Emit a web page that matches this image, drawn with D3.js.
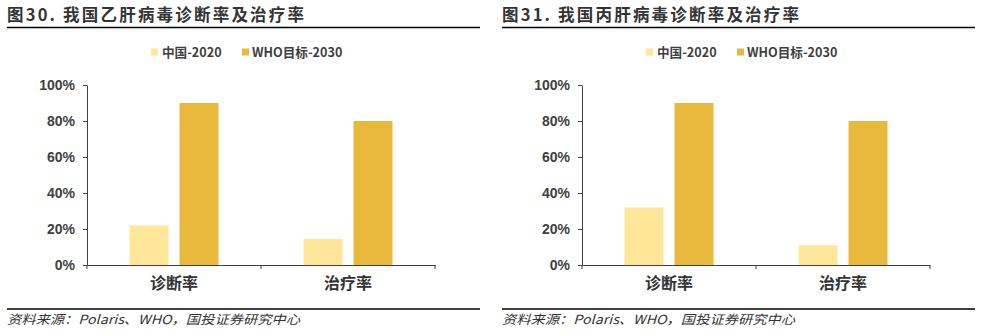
<!DOCTYPE html>
<html>
<head>
<meta charset="utf-8">
<script src="https://cdn.jsdelivr.net/npm/d3@7"></script>
<style>
  html, body { margin: 0; padding: 0; background: #fff; }
  svg { display: block; }
</style>
</head>
<body>
<svg id="chart" width="982" height="335"></svg>
<script>
const categories = ["诊断率", "治疗率"];
const seriesNames = ["中国-2020", "WHO目标-2030"];
const seriesColors = ["#FFE699", "#E8B93C"];
const hbvChina = [22, 14.5];
const hbvWHO = [90, 80];
const hcvChina = [32, 11];
const hcvWHO = [90, 80];
const yTicks = [0, 20, 40, 60, 80, 100];
const titles = ["图30. 我国乙肝病毒诊断率及治疗率", "图31. 我国丙肝病毒诊断率及治疗率"];
const sourceText = "资料来源：Polaris、WHO，国投证券研究中心";

const svg = d3.select("#chart");
const cjk = "'Noto Sans CJK SC', 'Noto Sans', sans-serif";
const latin = "'Liberation Sans', Arial, sans-serif";
const axisColor = "#404040";

function drawPanel(ox, title, china, who) {
  const g = svg.append("g").attr("transform", `translate(${ox},0)`);

  // title
  g.append("text").attr("x", 7).attr("y", 21)
    .attr("font-family", cjk).attr("font-weight", "bold").attr("font-size", 16.5)
    .attr("textLength", 297).attr("lengthAdjust", "spacing")
    .attr("fill", "#333").text(title);
  g.append("line").attr("x1", 7).attr("x2", 480).attr("y1", 27.5).attr("y2", 27.5)
    .attr("stroke", "#000").attr("stroke-width", 1.3);

  // legend
  const leg = g.append("g");
  const legItems = [{x: 151, tx: 162}, {x: 242, tx: 252}];
  seriesNames.forEach((s, i) => {
    leg.append("rect").attr("x", legItems[i].x).attr("y", 48.5).attr("width", 7).attr("height", 7)
      .attr("fill", seriesColors[i]);
    leg.append("text").attr("x", legItems[i].tx).attr("y", 57)
      .attr("font-family", cjk).attr("font-weight", "bold").attr("font-size", 12.6)
      .attr("fill", "#404040").text(s);
  });

  // scales
  const x0 = d3.scaleBand().domain(categories).range([87, 435]).paddingInner(0).paddingOuter(0);
  const bw = x0.bandwidth();
  const x1 = d3.scaleBand().domain(seriesNames).range([bw / 2 - 44.5, bw / 2 + 44.5]).paddingInner(0.22).paddingOuter(0);
  const y = d3.scaleLinear().domain([0, 100]).range([265, 85]);

  // bars
  const rows = categories.map((c, i) => ({c, vals: [china[i], who[i]]}));
  const grp = g.selectAll("g.cat").data(rows).enter().append("g")
    .attr("transform", d => `translate(${x0(d.c)},0)`);
  grp.selectAll("rect").data(d => d.vals.map((v, j) => ({s: seriesNames[j], v, j})))
    .enter().append("rect")
    .attr("x", d => x1(d.s)).attr("width", x1.bandwidth())
    .attr("y", d => y(d.v)).attr("height", d => y(0) - y(d.v))
    .attr("fill", d => seriesColors[d.j]);

  // y axis
  const ya = g.append("g").attr("transform", "translate(87,0)")
    .call(d3.axisLeft(y).tickValues(yTicks).tickFormat(d => d + "%").tickSize(4).tickSizeOuter(0).tickPadding(8));
  ya.select(".domain").attr("stroke", axisColor);
  ya.selectAll(".tick line").attr("stroke", axisColor);
  ya.selectAll(".tick text").attr("font-family", latin).attr("font-weight", "bold")
    .attr("font-size", 14).attr("fill", "#404040");

  // x axis
  const xa = g.append("g").attr("transform", "translate(0,265)")
    .call(d3.axisBottom(x0).tickSize(0).tickSizeOuter(0).tickPadding(13));
  xa.select(".domain").attr("stroke", axisColor);
  xa.selectAll(".tick text").attr("font-family", cjk).attr("font-weight", "bold")
    .attr("font-size", 16).attr("fill", "#333");
  const bounds = categories.map(c => x0(c)).concat([x0.range()[1]]);
  xa.selectAll("line.bnd").data(bounds).enter().append("line").attr("class", "bnd")
    .attr("x1", d => d).attr("x2", d => d).attr("y1", 0).attr("y2", 4)
    .attr("stroke", axisColor);

  // bottom line and source
  g.append("line").attr("x1", 7).attr("x2", 480).attr("y1", 309).attr("y2", 309)
    .attr("stroke", "#000").attr("stroke-width", 1.3);
  g.append("text").attr("x", 7).attr("y", 324)
    .attr("font-family", cjk).attr("font-style", "italic").attr("font-size", 12.5)
    .attr("textLength", 293).attr("lengthAdjust", "spacingAndGlyphs")
    .attr("fill", "#333").text(sourceText);
}

drawPanel(0, titles[0], hbvChina, hbvWHO);
drawPanel(495, titles[1], hcvChina, hcvWHO);
</script>
</body>
</html>
